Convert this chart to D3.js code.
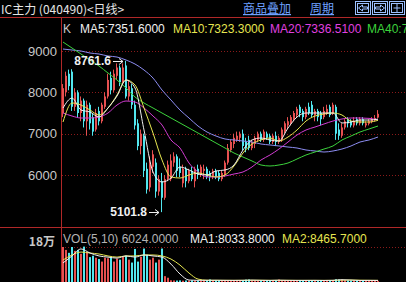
<!DOCTYPE html>
<html>
<head>
<meta charset="utf-8">
<script src="https://cdn.jsdelivr.net/npm/d3@7"></script>
<style>
  html, body { margin: 0; padding: 0; background: #000; overflow: hidden; }
  svg { display: block; font-family: "Liberation Sans", Arial, sans-serif; }
</style>
</head>
<body>
<svg id="chart" width="406" height="282"></svg>
<script>
// daily candles
const open = [7500, 8000, 8450, 8500, 7650, 8000, 7500, 7800, 7300, 7700,
  7400, 7100, 7550, 7300, 7650, 7900, 8350, 8050, 8400, 8600,
  8250, 8650, 7900, 8100, 7700, 7250, 6700, 6950, 6150, 5700,
  6200, 6300, 5600, 5850, 5450, 5900, 5900, 6300, 6450, 6200,
  5800, 6150, 5850, 6100, 5850, 6150, 6000, 6100, 6150, 6050,
  5950, 6100, 6050, 5900, 6000, 6300, 6600, 6750, 6850, 6900,
  7000, 6800, 6850, 6650, 6750, 6850, 7000, 6850, 7000, 6950,
  6800, 6950, 6800, 6850, 7050, 7200, 7250, 7350, 7450, 7650,
  7550, 7400, 7650, 7700, 7450, 7550, 7500, 7400, 7500, 7650,
  7500, 7650, 7100, 6950, 7150, 7350, 7300, 7200, 7350, 7250,
  7350, 7200, 7240, 7290, 7320, 7390];
const high = [8200, 8500, 8550, 8560, 8100, 8050, 7900, 7850, 7800, 7750,
  7500, 7600, 7650, 7750, 8000, 8450, 8500, 8550, 8700, 8650,
  8700, 8761.6, 8300, 8200, 7800, 7350, 7100, 7000, 6300, 6450,
  6600, 6400, 6000, 6050, 6000, 6350, 6500, 6550, 6500, 6400,
  6250, 6200, 6150, 6200, 6200, 6250, 6250, 6250, 6200, 6100,
  6150, 6150, 6100, 6100, 6350, 6750, 6850, 7000, 7050, 7050,
  7100, 6900, 6950, 6850, 6950, 7050, 7050, 7100, 7050, 7000,
  7000, 7050, 6950, 7150, 7300, 7400, 7450, 7550, 7650, 7700,
  7600, 7650, 7750, 7790, 7600, 7600, 7550, 7650, 7700, 7700,
  7750, 7700, 7250, 7250, 7350, 7400, 7350, 7400, 7400, 7400,
  7400, 7300, 7350, 7400, 7450, 7570];
const low = [7400, 7900, 8050, 7550, 7550, 7400, 7300, 7150, 6950, 7100,
  6950, 7050, 7200, 7250, 7600, 7850, 7950, 8000, 8300, 8150,
  8200, 7850, 7800, 7600, 7100, 6600, 6500, 5950, 5550, 5600,
  6050, 5450, 5500, 5101.8, 5400, 5850, 5850, 6200, 5950, 5950,
  5700, 5700, 5800, 5850, 5700, 5900, 5950, 5900, 5900, 5850,
  5900, 5900, 5850, 5850, 5950, 6250, 6550, 6650, 6800, 6800,
  6600, 6550, 6600, 6600, 6650, 6800, 6800, 6800, 6850, 6750,
  6750, 6700, 6750, 6800, 7000, 7100, 7200, 7300, 7400, 7400,
  7300, 7350, 7450, 7400, 7300, 7300, 7200, 7350, 7450, 7400,
  7450, 6850, 6850, 6900, 7100, 7150, 7150, 7150, 7200, 7200,
  7200, 7150, 7200, 7250, 7300, 7370];
const close = [8100, 8400, 8150, 7650, 8000, 7500, 7800, 7300, 7700, 7250,
  7050, 7500, 7300, 7700, 7900, 8300, 8050, 8450, 8600, 8250,
  8600, 7900, 8150, 7700, 7200, 6700, 7000, 6100, 5650, 6300,
  6500, 5600, 5900, 5450, 5900, 6250, 6350, 6450, 6100, 6050,
  6150, 5850, 6100, 5900, 6150, 6000, 6200, 6150, 5950, 5950,
  6100, 5950, 5900, 6050, 6300, 6650, 6800, 6900, 6950, 7000,
  6700, 6650, 6650, 6800, 6900, 7000, 6850, 7050, 6900, 6800,
  6950, 6800, 6900, 7100, 7250, 7300, 7400, 7500, 7600, 7500,
  7400, 7600, 7500, 7450, 7550, 7400, 7350, 7550, 7600, 7450,
  7700, 7000, 6950, 7150, 7300, 7250, 7200, 7300, 7250, 7350,
  7250, 7250, 7300, 7350, 7380, 7480];
const volume = [180000, 165000, 150000, 180000, 160000, 165000, 145000, 182000, 155000, 128000,
  135000, 125000, 118000, 105000, 125000, 122000, 130000, 105000, 120000, 115000,
  130000, 135000, 115000, 100000, 170000, 105000, 130000, 172000, 140000, 115000,
  125000, 100000, 115000, 172000, 30000, 22000, 9000, 8000, 7500, 8500,
  7000, 8000, 7500, 9000, 8000, 7000, 7500, 8000, 9500, 13000,
  8000, 7000, 7500, 8500, 9000, 8000, 7500, 8500, 9000, 8000,
  9500, 12000, 13000, 8000, 7500, 7000, 8500, 8000, 7500, 7000,
  8000, 8500, 12500, 9000, 8000, 7500, 8000, 8500, 9000, 8000,
  7500, 8000, 8500, 9000, 7500, 7000, 8000, 7500, 8500, 9000,
  10000, 14000, 13000, 12000, 9000, 8000, 7500, 8000, 7500, 8500,
  9000, 8000, 7500, 9000, 10000, 6024];

// moving averages, sampled every third day
const maIdx = [0, 3, 6, 9, 12, 15, 18, 21, 24, 27, 30, 33, 36, 39, 42, 45, 48, 51,
  54, 57, 60, 63, 66, 69, 72, 75, 78, 81, 84, 87, 90, 93, 96, 99, 102, 105];
const ma5 = [7620, 7862, 7572, 7524, 7403, 7621, 7911, 8298, 8105, 7089, 6073, 5831,
  5927, 6194, 6121, 6024, 6000, 6097, 6121, 6242, 6605, 6847, 6895, 6847, 6822, 7137,
  7403, 7500, 7500, 7500, 7500, 7258, 7282, 7330, 7330, 7351.6];
const ma10 = [7282, 7742, 7693, 7572, 7451, 7621, 7935, 8298, 8177, 7621, 7016, 6363,
  5952, 5927, 6000, 6048, 6000, 5952, 6000, 6218, 6532, 6750, 6847, 6895, 6822, 6919,
  7089, 7306, 7427, 7476, 7500, 7451, 7306, 7282, 7282, 7323.3];
const ma20 = [7500, 7427, 7379, 7379, 7403, 7500, 7693, 7790, 7766, 7621, 7427, 7210,
  6847, 6653, 6290, 6073, 5952, 5952, 5976, 6024, 6073, 6194, 6363, 6484, 6629, 6798,
  6968, 7089, 7161, 7234, 7306, 7355, 7379, 7379, 7370, 7336.51];
const ma40 = [9217, 9072, 8927, 8782, 8637, 8467, 8298, 8105, 7887, 7742, 7621, 7500,
  7379, 7258, 7137, 7016, 6895, 6774, 6653, 6532, 6435, 6339, 6242, 6218, 6242, 6290,
  6387, 6484, 6556, 6629, 6702, 6847, 6943, 7040, 7113, 7185.2];
const ma60 = [9048, 9024, 9000, 8951, 8927, 8879, 8854, 8782, 8685, 8540, 8346, 8056,
  7814, 7572, 7379, 7185, 7040, 6943, 6871, 6847, 6822, 6798, 6750, 6726, 6702, 6677,
  6653, 6605, 6581, 6556, 6581, 6629, 6702, 6798, 6847, 6919];
const volMa5 = [98000, 134000, 170000, 149000, 134000, 128000, 123000, 134000, 128000,
  139000, 134000, 128000, 92000, 41000, 10000, 8500, 8800, 9000, 8500, 8300, 8700,
  9500, 8600, 8200, 9200, 8400, 8200, 8300, 8400, 8000, 8600, 11500, 9800, 8000, 8300, 8033.8];
const volMa10 = [113000, 139000, 154000, 149000, 144000, 134000, 128000, 134000, 134000,
  139000, 139000, 134000, 118000, 87000, 46000, 15000, 9000, 8800, 8600, 8500, 8600,
  9200, 9000, 8500, 8800, 8700, 8300, 8300, 8400, 8200, 8400, 9800, 10200, 9200, 8600, 8465.7];

const priceTicks = [6000, 7000, 8000, 9000];
const volTick = 180000;
const maNames = ["MA5", "MA10", "MA20", "MA40"];

const W = 406, H = 282;
const svg = d3.select("#chart");
svg.append("rect").attr("width", W).attr("height", H).attr("fill", "#000");

const N = close.length;
const x = d3.scaleBand()
  .domain(d3.range(N))
  .range([61.5, 61.5 + 3 * N])
  .paddingInner(1 / 3)
  .paddingOuter(1 / 6);
const cx = i => x(i) + x.bandwidth() / 2;

const y = d3.scaleLinear().domain([6000, 9000]).range([175, 51]);
const yv = d3.scaleLinear().domain([0, volTick]).range([282, 247]);

const red = "#e65050", cyan = "#52e6ee", axisRed = "#b02828", gridRed = "#8a1a1a";

// clip areas
const defs = svg.append("defs");
defs.append("clipPath").attr("id", "clipMain")
  .append("rect").attr("x", 62).attr("y", 18).attr("width", W - 62).attr("height", 209);
defs.append("clipPath").attr("id", "clipVol")
  .append("rect").attr("x", 62).attr("y", 228).attr("width", W - 62).attr("height", 54);

// grid lines
svg.append("g").selectAll("line")
  .data(priceTicks)
  .enter().append("line")
  .attr("x1", 62).attr("x2", W)
  .attr("y1", d => Math.round(y(d)) + 0.5).attr("y2", d => Math.round(y(d)) + 0.5)
  .attr("stroke", gridRed).attr("stroke-dasharray", "1,2");
svg.append("line")
  .attr("x1", 62).attr("x2", W)
  .attr("y1", Math.round(yv(volTick)) + 0.5).attr("y2", Math.round(yv(volTick)) + 0.5)
  .attr("stroke", gridRed).attr("stroke-dasharray", "1,2");

// price axis labels
const yAxis = svg.append("g")
  .attr("transform", "translate(57,0)")
  .call(d3.axisLeft(y).tickValues(priceTicks).tickSize(0).tickPadding(0).tickFormat(d3.format("d")));
yAxis.select(".domain").remove();
yAxis.selectAll("text").attr("fill", "#c8c8c8").style("font-size", "13px")
  .style("font-family", "'Liberation Sans', Arial, sans-serif");

svg.append("text").attr("x", 55).attr("y", 246)
  .attr("text-anchor", "end").attr("fill", "#c8c8c8")
  .style("font-size", "12px").style("font-weight", "bold")
  .style("font-family", "'Noto Sans CJK SC', sans-serif")
  .text("18万");

// panel frame lines
svg.append("line").attr("x1", 0).attr("x2", W).attr("y1", 17.5).attr("y2", 17.5).attr("stroke", axisRed);
svg.append("line").attr("x1", 0).attr("x2", W).attr("y1", 227.5).attr("y2", 227.5).attr("stroke", axisRed);
svg.append("line").attr("x1", 61.5).attr("x2", 61.5).attr("y1", 18).attr("y2", H).attr("stroke", axisRed);

// candles
const main = svg.append("g").attr("clip-path", "url(#clipMain)");
const candles = main.selectAll("g.candle")
  .data(d3.range(N))
  .enter().append("g").attr("class", "candle");
candles.append("line")
  .attr("x1", i => x(i) + 0.5).attr("x2", i => x(i) + 0.5)
  .attr("y1", i => y(high[i])).attr("y2", i => y(low[i]))
  .attr("stroke", i => close[i] >= open[i] ? red : cyan);
candles.append("rect")
  .attr("x", i => x(i))
  .attr("width", x.bandwidth())
  .attr("y", i => y(Math.max(open[i], close[i])))
  .attr("height", i => Math.max(1, Math.abs(y(open[i]) - y(close[i]))))
  .attr("fill", i => close[i] >= open[i] ? red : cyan);

// moving average lines
const maLine = d3.line()
  .x((d, k) => cx(maIdx[k]))
  .y(d => y(d))
  .curve(d3.curveMonotoneX);
const maSeries = [
  { values: ma60, color: "#8c8cf0" },
  { values: ma40, color: "#3cd23c" },
  { values: ma20, color: "#d23cd2" },
  { values: ma10, color: "#e6e650" },
  { values: ma5, color: "#f0f0f0" }
];
main.selectAll("path.ma")
  .data(maSeries)
  .enter().append("path").attr("class", "ma")
  .attr("d", d => maLine(d.values))
  .attr("fill", "none")
  .attr("stroke", d => d.color)
  .attr("stroke-width", 1);

// high / low marks
const hiIdx = d3.maxIndex(high), loIdx = d3.minIndex(low);
function mark(i, v, yy) {
  const tipX = cx(i) - 3;
  const g = svg.append("g");
  g.append("text")
    .attr("x", tipX - 12).attr("y", yy).attr("dy", "0.35em")
    .attr("text-anchor", "end").attr("fill", "#f0f0f0")
    .style("font-size", "12px").style("font-weight", "bold")
    .text(d3.format(".1f")(v));
  g.append("line").attr("x1", tipX - 10).attr("x2", tipX).attr("y1", yy + 0.5).attr("y2", yy + 0.5)
    .attr("stroke", "#f0f0f0");
  g.append("path").attr("d", `M${tipX},${yy + 0.5} l-4,-3 M${tipX},${yy + 0.5} l-4,3`)
    .attr("stroke", "#f0f0f0").attr("fill", "none");
}
mark(hiIdx, high[hiIdx], Math.round(y(high[hiIdx])));
mark(loIdx, low[loIdx], Math.round(y(low[loIdx])));

// volume
const vol = svg.append("g").attr("clip-path", "url(#clipVol)");
vol.selectAll("rect")
  .data(d3.range(N))
  .enter().append("rect")
  .attr("x", i => x(i))
  .attr("width", x.bandwidth())
  .attr("y", i => yv(volume[i]))
  .attr("height", i => yv(0) - yv(volume[i]))
  .attr("fill", i => close[i] >= open[i] ? red : cyan);
const volLine = d3.line()
  .x((d, k) => cx(maIdx[k]))
  .y(d => yv(d))
  .curve(d3.curveMonotoneX);
vol.append("path").attr("d", volLine(volMa10)).attr("fill", "none").attr("stroke", "#e6e650");
vol.append("path").attr("d", volLine(volMa5)).attr("fill", "none").attr("stroke", "#f0f0f0");

// header
svg.append("text").attr("x", 1).attr("y", 14)
  .attr("fill", "#e6e6e6").style("font-size", "12px")
  .style("font-family", "'Noto Sans CJK SC', sans-serif")
  .text("IC主力 (040490)<日线>");
const linkStyle = t => t.attr("fill", "#6ea0ff").style("font-size", "12px")
  .style("font-family", "'Noto Sans CJK SC', sans-serif")
  .style("text-decoration", "underline");
svg.append("text").attr("x", 243).attr("y", 13).call(linkStyle).text("商品叠加");
svg.append("text").attr("x", 310).attr("y", 13).call(linkStyle).text("周期");

// nav buttons
const btn = svg.append("g").attr("stroke", "#9cc0ff").attr("fill", "none");
[355.5, 372.5, 389.5].forEach((bx, k) => {
  btn.append("rect").attr("x", bx).attr("y", 1.5).attr("width", 15).attr("height", 13);
  btn.append("rect").attr("x", bx + 2).attr("y", 3.5).attr("width", 11).attr("height", 9);
  if (k === 0) btn.append("path").attr("d", `M${bx + 3},8 l4,-3 v2 h5 v2 h-5 v2 z`);
  if (k === 1) btn.append("path").attr("d", `M${bx + 12},8 l-4,-3 v2 h-5 v2 h5 v2 z`);
  if (k === 2) btn.append("path").attr("d", `M${bx + 4},8 h7 M${bx + 7.5},4 v8`);
});

// legend line
const fmt4 = d3.format(".4f");
const lastMA = [ma5, ma10, ma20, ma40].map(a => a[a.length - 1]);
const legend = svg.append("text").attr("y", 33).style("font-size", "12px");
legend.append("tspan").attr("x", 63).attr("fill", "#c8c8c8").text("K");
const legendColors = ["#f0f0f0", "#e6e650", "#e040e0", "#3cd23c"];
const legendX = [80, 173, 270, 367];
maNames.forEach((n, k) => {
  legend.append("tspan").attr("x", legendX[k]).attr("fill", legendColors[k])
    .text(n + ":" + fmt4(lastMA[k]));
});

const volText = svg.append("text").attr("y", 243).style("font-size", "12px");
volText.append("tspan").attr("x", 63).attr("fill", "#b4b4b4").text("VOL(5,10) " + fmt4(volume[N - 1]));
volText.append("tspan").attr("x", 190).attr("fill", "#f0f0f0").text("MA1:" + fmt4(volMa5[volMa5.length - 1]));
volText.append("tspan").attr("x", 282).attr("fill", "#e6e650").text("MA2:" + fmt4(volMa10[volMa10.length - 1]));
</script>
</body>
</html>
